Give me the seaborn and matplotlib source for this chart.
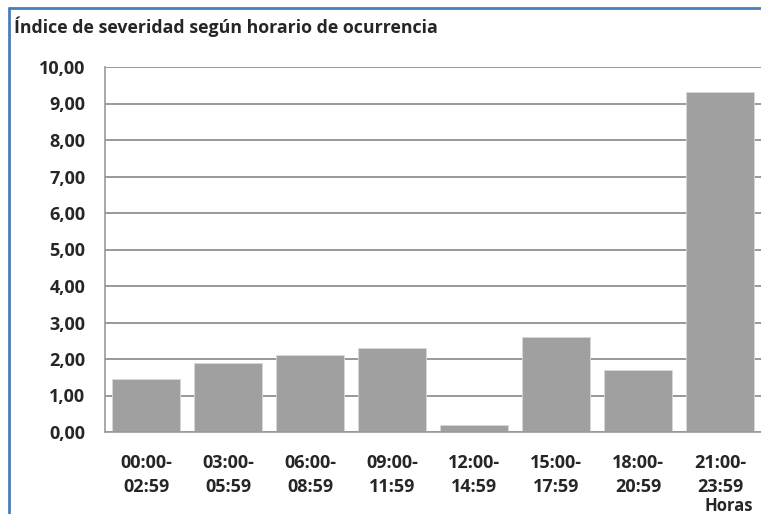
import numpy as np
import pandas as pd
import matplotlib
matplotlib.use("Agg")
import matplotlib.pyplot as plt
from matplotlib.lines import Line2D
from matplotlib.ticker import FuncFormatter
import seaborn as sns

# data
horarios = ["00:00-\n02:59", "03:00-\n05:59", "06:00-\n08:59", "09:00-\n11:59",
            "12:00-\n14:59", "15:00-\n17:59", "18:00-\n20:59", "21:00-\n23:59"]
severidad = [1.44, 1.88, 2.10, 2.29, 0.19, 2.59, 1.71, 9.32]
y_ticks = [0, 1, 2, 3, 4, 5, 6, 7, 8, 9, 10]

titulo = "Índice de severidad según horario de ocurrencia"
eje_x = "Horas"

df = pd.DataFrame({"horario": horarios, "severidad": severidad})

sns.set_style("white")
plt.rcParams['font.family'] = ['Open Sans', 'DejaVu Sans']

gris = "#999999"

fig = plt.figure(figsize=(7.61, 5.14), dpi=100)
ax = fig.add_axes([105 / 761, 1 - 432 / 514, 1 - 105 / 761, (432 - 67) / 514])

sns.barplot(data=df, x="horario", y="severidad", color="#A0A0A0",
            saturation=1, width=0.83, ax=ax, edgecolor="#D8D8D8", linewidth=0.6)

ax.set_ylim(0, 10)
ax.set_xlim(-0.5, len(horarios) - 0.5)
ax.set_yticks(y_ticks)
ax.yaxis.set_major_formatter(FuncFormatter(lambda v, p: f"{v:.2f}".replace(".", ",")))
ax.set_axisbelow(True)
ax.yaxis.grid(True, color=gris, linewidth=1.4)
ax.xaxis.grid(False)

# category boundary ticks like excel
ax.set_xticks(np.arange(len(horarios)) - 0.5, minor=True)
ax.tick_params(axis="x", which="minor", length=5, width=1, color=gris, direction="out")
ax.tick_params(axis="x", which="major", length=0, pad=15.5)
ax.tick_params(axis="y", length=5, width=1, color=gris, pad=9)

for lab in ax.get_xticklabels():
    lab.set_fontweight("bold")
    lab.set_fontsize(13)
    lab.set_linespacing(1.45)
for lab in ax.get_yticklabels():
    lab.set_fontweight("bold")
    lab.set_fontsize(13)

for s in ["top", "right"]:
    ax.spines[s].set_visible(False)
for s in ["left", "bottom"]:
    ax.spines[s].set_color(gris)
    ax.spines[s].set_linewidth(1.2)

ax.set_xlabel("")
ax.set_ylabel("")

fig.text(14 / 761, 1 - 27 / 514, titulo, fontsize=12.8, fontweight="bold",
         va="center", ha="left")
fig.text(753 / 761, 1 - 511 / 514, eje_x, fontsize=12, fontweight="bold",
         va="baseline", ha="right")

# blue chart frame (top and left edge visible)
borde = "#4A7EBB"
fig.add_artist(Line2D([9 / 761, 1], [1 - 8 / 514, 1 - 8 / 514], color=borde, linewidth=2))
fig.add_artist(Line2D([9 / 761, 9 / 761], [0, 1 - 8 / 514], color=borde, linewidth=2))

fig.savefig("out.png", dpi=100)
